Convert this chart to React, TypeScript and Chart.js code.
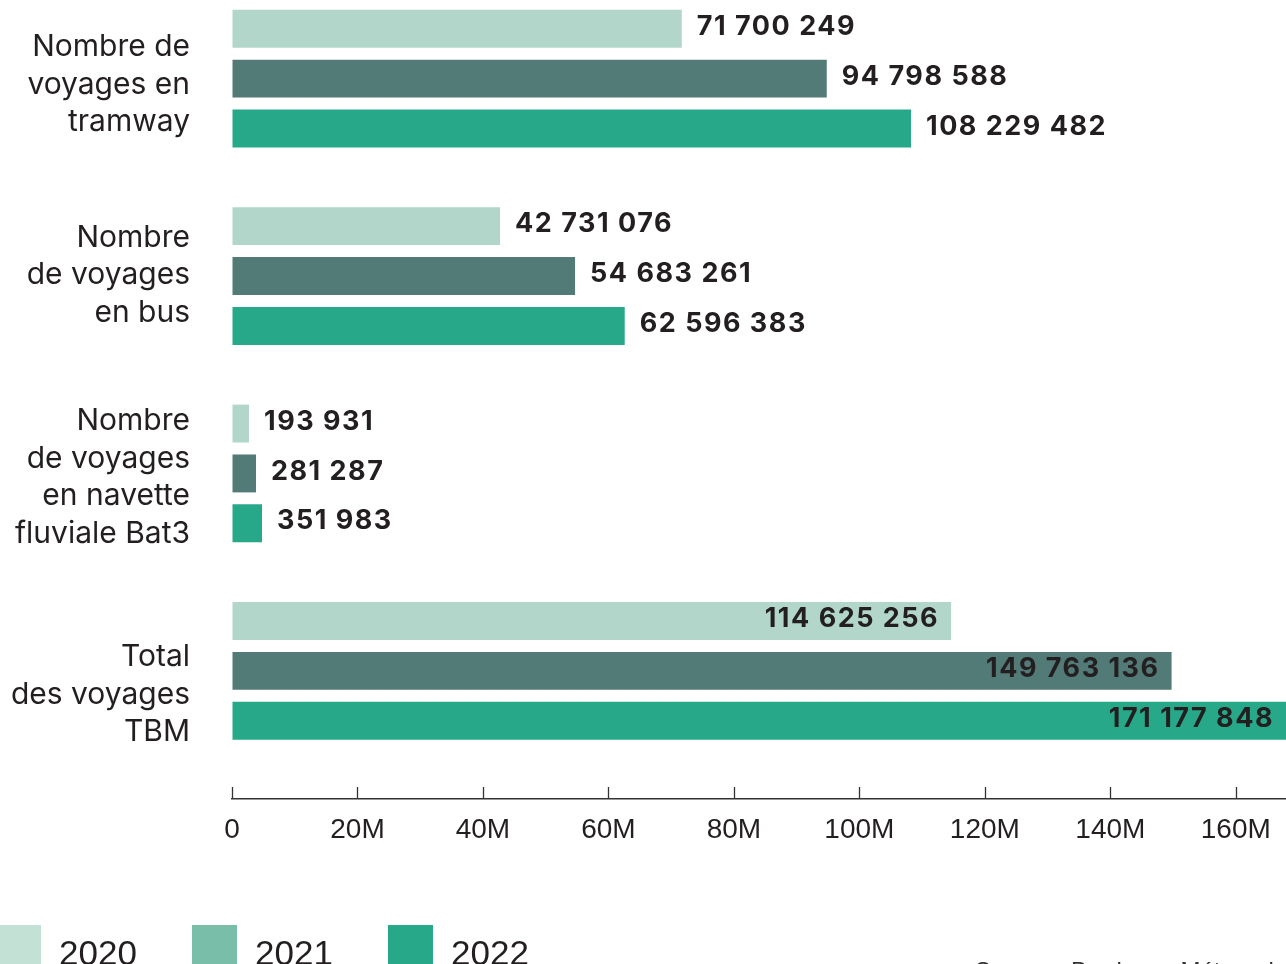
import React, { useEffect, useRef } from "react";
import { Chart, registerables } from "chart.js";

Chart.register(...registerables);

// ---- data ----
const categoryLabels: string[][] = [
  ["Nombre de", "voyages en", "tramway"],
  ["Nombre", "de voyages", "en bus"],
  ["Nombre", "de voyages", "en navette", "fluviale Bat3"],
  ["Total", "des voyages", "TBM"],
];
const seriesNames = ["2020", "2021", "2022"];
const values2020 = [71700249, 42731076, 193931, 114625256];
const values2021 = [94798588, 54683261, 281287, 149763136];
const values2022 = [108229482, 62596383, 351983, 171177848];
const xTickValues = [0, 20000000, 40000000, 60000000, 80000000, 100000000, 120000000, 140000000, 160000000];
const xTickLabels = ["0", "20M", "40M", "60M", "80M", "100M", "120M", "140M", "160M"];
const xMax = 168000000;
const labelInside = [false, false, false, true];
const sourceText = "Source : Bordeaux Métropole";

// ---- styles ----
const barColors = ["#b2d6ca", "#527a77", "#27a889"];
const legendColors = ["#c4e1d6", "#79bea8", "#27a889"];
const minBarLengths = [17, 24, 30];
const categoryLabelShift = [6, -1, 4, 24];
const yMin = -0.3984;
const yMax = 3.6492;
const textColor = "#231f20";

const fmt = (v: number) => String(v).replace(/\B(?=(\d{3})+(?!\d))/g, " ");

const upTicks = {
  id: "upTicks",
  afterDraw(chart: any) {
    const { ctx, chartArea, scales } = chart;
    const xs = scales.x;
    ctx.save();
    ctx.strokeStyle = "#333";
    ctx.lineWidth = 1.3;
    xs.ticks.forEach((t: any) => {
      const px = Math.round(xs.getPixelForValue(t.value)) + 0.5;
      ctx.beginPath();
      ctx.moveTo(px, chartArea.bottom - 12);
      ctx.lineTo(px, chartArea.bottom);
      ctx.stroke();
    });
    ctx.restore();
  },
};

const categoryText = {
  id: "categoryText",
  afterDraw(chart: any) {
    const { ctx, chartArea, scales } = chart;
    const ys = scales.y;
    const lh = 37.5;
    ctx.save();
    ctx.font = "400 30px Inter";
    ctx.fillStyle = textColor;
    ctx.textAlign = "right";
    ctx.textBaseline = "middle";
    categoryLabels.forEach((lines, i) => {
      const cy = ys.getPixelForValue(i) + categoryLabelShift[i];
      lines.forEach((line, k) => {
        const y = cy + (k - (lines.length - 1) / 2) * lh;
        ctx.fillText(line, chartArea.left - 42, y);
      });
    });
    ctx.restore();
  },
};

const valueLabels = {
  id: "valueLabels",
  afterDatasetsDraw(chart: any) {
    const { ctx, chartArea } = chart;
    ctx.save();
    ctx.font = "700 27px Inter";
    (ctx as any).letterSpacing = "1.5px";
    ctx.fillStyle = textColor;
    ctx.textBaseline = "middle";
    chart.data.datasets.forEach((ds: any, di: number) => {
      const meta = chart.getDatasetMeta(di);
      meta.data.forEach((bar: any, i: number) => {
        const text = fmt(ds.data[i].x);
        if (labelInside[i]) {
          ctx.textAlign = "right";
          ctx.fillText(text, Math.min(bar.x, chartArea.right) - 12, bar.y - 2);
        } else {
          ctx.textAlign = "left";
          ctx.fillText(text, bar.x + 15, bar.y - 2);
        }
      });
    });
    ctx.restore();
  },
};

export default function App() {
  const ref = useRef<HTMLCanvasElement>(null);

  useEffect(() => {
    if (!ref.current) return;
    const seriesValues = [values2020, values2021, values2022];
    const chart = new Chart(ref.current, {
      type: "bar",
      data: {
        datasets: seriesNames.map((name, s) => ({
          label: name,
          data: seriesValues[s].map((v, i) => ({ x: v, y: i })),
          backgroundColor: barColors[s],
          borderWidth: 0,
          minBarLength: minBarLengths[s],
          categoryPercentage: 0.758,
          barPercentage: 0.76,
        })),
      },
      options: {
        indexAxis: "y",
        animation: false,
        responsive: false,
        maintainAspectRatio: false,
        layout: { padding: { left: 232, top: 0, right: 0, bottom: 0 } },
        plugins: { legend: { display: false }, tooltip: { enabled: false } },
        scales: {
          x: {
            type: "linear",
            position: "bottom",
            min: 0,
            max: xMax,
            bounds: "data",
            offset: false,
            grid: { display: true, drawOnChartArea: false, drawTicks: false, offset: false },
            border: { display: true, color: "#333", width: 1.5 },
            ticks: {
              autoSkip: false,
              maxRotation: 0,
              padding: 14,
              color: textColor,
              font: { family: "'Liberation Sans', Arial, sans-serif", size: 28 },
              callback: (v: any) => {
                const k = xTickValues.indexOf(v);
                return k >= 0 ? xTickLabels[k] : "";
              },
            },
            afterBuildTicks: (s: any) => {
              s.ticks = xTickValues.map((v) => ({ value: v }));
            },
            afterFit: (s: any) => {
              s.height = 165;
              s.paddingLeft = 0;
              s.paddingRight = 0;
            },
          },
          y: {
            type: "linear",
            display: false,
            reverse: true,
            offset: false,
            grid: { offset: false },
            min: yMin,
            max: yMax,
            bounds: "data",
            afterBuildTicks: (s: any) => {
              s.min = yMin;
              s.max = yMax;
              s.ticks = categoryLabels.map((_, i) => ({ value: i }));
            },
          },
        },
      } as any,
      plugins: [upTicks, categoryText, valueLabels],
    });
    return () => chart.destroy();
  }, []);

  return (
    <div
      style={{
        position: "fixed",
        left: 0,
        top: 0,
        width: 1286,
        height: 964,
        overflow: "hidden",
        background: "#fff",
      }}
    >
      <canvas ref={ref} width={1286} height={964} style={{ display: "block" }} />
      {seriesNames.map((name, i) => (
        <React.Fragment key={name}>
          <div
            style={{
              position: "absolute",
              left: -4 + i * 196,
              top: 925,
              width: 45,
              height: 45,
              background: legendColors[i],
            }}
          />
          <div
            style={{
              position: "absolute",
              left: 59 + i * 196,
              top: 935,
              fontFamily: "'Liberation Sans', Arial, sans-serif",
              fontSize: 35,
              lineHeight: "35px",
              color: textColor,
              whiteSpace: "nowrap",
            }}
          >
            {name}
          </div>
        </React.Fragment>
      ))}
      <div
        style={{
          position: "absolute",
          left: 975,
          top: 959,
          fontFamily: "'Liberation Sans', Arial, sans-serif",
          fontSize: 24,
          lineHeight: "24px",
          color: "#333",
          whiteSpace: "nowrap",
        }}
      >
        {sourceText}
      </div>
    </div>
  );
}
